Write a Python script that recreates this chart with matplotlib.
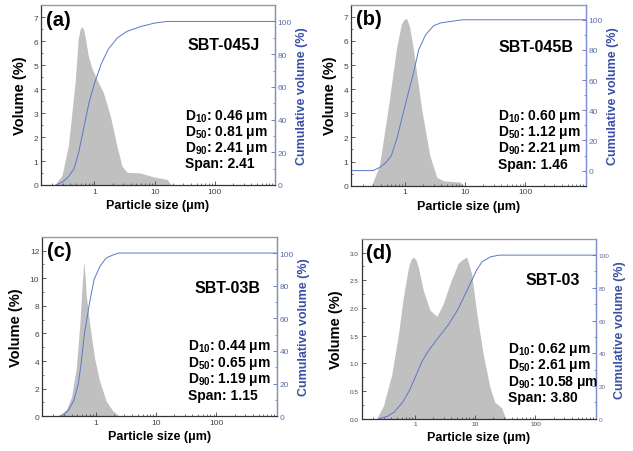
import matplotlib
matplotlib.use("Agg")
import matplotlib.pyplot as plt
from matplotlib.ticker import MultipleLocator, FormatStrFormatter, LogLocator, NullFormatter

plt.rcParams["font.family"] = ["Liberation Sans", "DejaVu Sans"]
plt.rcParams["mathtext.fontset"] = "custom"
plt.rcParams["mathtext.rm"] = "Liberation Sans"
plt.rcParams["mathtext.bf"] = "Liberation Sans:bold"

# ---- data ----
sizes_a = [0.22, 0.29, 0.37, 0.48, 0.54, 0.58, 0.62, 0.66, 0.70, 0.79, 0.90, 1.1, 1.41, 1.83, 2.36,
           2.86, 3.47, 5.8, 9.6, 16.3, 18.7]
vol_a = [0, 0.4, 1.64, 4.3, 6.1, 6.5, 6.6, 6.5, 6.2, 5.4, 4.9, 4.4, 3.86, 2.9, 1.64,
         0.8, 0.53, 0.5, 0.34, 0.23, 0]
cum_x_a = [0.23, 0.30, 0.37, 0.46, 0.55, 0.65, 0.81, 1.0, 1.3, 1.7, 2.41, 3.5, 6.0, 10, 16, 1000]
cum_a = [0, 2, 5, 10, 20, 33, 50, 62, 74, 83, 90, 94, 97, 99, 100, 100]

sizes_b = [0.28, 0.38, 0.53, 0.73, 0.88, 0.97, 1.07, 1.2, 1.38, 1.9, 2.6, 3.4, 4.4, 8.3, 9.4]
vol_b = [0, 0.83, 3.2, 5.7, 6.7, 6.88, 6.93, 6.6, 5.7, 3.2, 1.25, 0.35, 0.2, 0.15, 0]
cum_x_b = [0.13, 0.30, 0.38, 0.48, 0.60, 0.75, 0.90, 1.12, 1.4, 1.7, 2.21, 3.0, 4.0, 6.0, 9.0, 1000]
cum_b = [0, 0, 2, 5, 10, 22, 35, 50, 65, 80, 90, 96, 98, 99, 100, 100]

sizes_c = [0.24, 0.33, 0.40, 0.48, 0.55, 0.60, 0.64, 0.67, 0.70, 0.80, 0.96, 1.16, 1.5, 1.93, 2.5]
vol_c = [0, 0.5, 1.4, 3.5, 6.7, 9.5, 11.2, 10.2, 8.8, 6.7, 4.25, 2.6, 1.1, 0.4, 0]
cum_x_c = [0.25, 0.30, 0.36, 0.44, 0.52, 0.58, 0.65, 0.80, 0.95, 1.19, 1.5, 2.0, 2.4, 1000]
cum_c = [0, 1, 4, 10, 20, 33, 50, 70, 84, 92, 97, 99, 100, 100]

sizes_d = [0.23, 0.30, 0.41, 0.53, 0.64, 0.78, 0.86, 0.94, 1.03, 1.13, 1.37, 1.77, 2.3, 2.95, 3.8,
           5.2, 6.2, 7.2, 8.7, 10.5, 13.5, 17.5, 21, 27.3, 32]
vol_d = [0, 0.24, 0.8, 1.53, 2.2, 2.74, 2.88, 2.92, 2.88, 2.74, 2.32, 1.96, 1.85, 2.08, 2.44,
         2.81, 2.88, 2.92, 2.62, 1.93, 1.17, 0.57, 0.3, 0.2, 0]
cum_x_d = [0.25, 0.35, 0.45, 0.62, 0.80, 1.0, 1.3, 1.7, 2.61, 3.5, 5.0, 7.0, 10.58, 13, 18, 25, 1000]
cum_d = [0, 1.5, 4, 10, 17, 25, 35, 42, 51, 57, 66, 77, 91, 96, 99, 100, 100]

panel_tags = ["(a)", "(b)", "(c)", "(d)"]
sample_names = ["SBT-045J", "SBT-045B", "SBT-03B", "SBT-03"]
d10 = ["0.46", "0.60", "0.44", "0.62"]
d50 = ["0.81", "1.12", "0.65", "2.61"]
d90 = ["2.41", "2.21", "1.19", "10.58"]
spans = ["2.41", "1.46", "1.15", "3.80"]

FILL = "#c0c0c0"
LINE = "#5a78c8"
BLUE = "#3b4fa6"
TICKBLUE = "#5d6cab"

# axes boxes in figure fraction [left, bottom, width, height]
boxes = [
    [0.0648, 0.5885, 0.3697, 0.398],
    [0.555, 0.587, 0.3703, 0.4004],
    [0.0664, 0.0768, 0.3708, 0.3973],
    [0.5714, 0.0715, 0.3697, 0.398],
]
vol_lims = [(0, 7.5), (0, 7.5), (0, 13), (0, 3.25)]
vol_major = [1, 1, 2, 0.5]
cum_lims = [(0, 110), (-10, 110), (0, 110), (0, 110)]
tick_fs = [6, 6, 6, 4.6]
name_pos = [(0.935, 0.755), (0.95, 0.746), (0.929, 0.69), (0.933, 0.748)]
dtext_pos = [(0.615, 0.367, 0.098), (0.626, 0.368, 0.10), (0.622, 0.375, 0.096), (0.625, 0.369, 0.10)]

all_sizes = [sizes_a, sizes_b, sizes_c, sizes_d]
all_vols = [vol_a, vol_b, vol_c, vol_d]
all_cx = [cum_x_a, cum_x_b, cum_x_c, cum_x_d]
all_cum = [cum_a, cum_b, cum_c, cum_d]

fig = plt.figure(figsize=(6.33, 4.52), dpi=100)

for i in range(4):
    ax = fig.add_axes(boxes[i])
    ax2 = ax.twinx()

    ax.fill_between(all_sizes[i], all_vols[i], 0, color=FILL, linewidth=0)
    ax2.plot(all_cx[i], all_cum[i], color=LINE, lw=0.7)

    ax.set_xscale("log")
    ax.set_xlim(0.13, 1000)
    ax.set_ylim(*vol_lims[i])
    ax2.set_ylim(*cum_lims[i])
    ax.xaxis.set_minor_locator(LogLocator(base=10, subs=range(2, 10), numticks=20))
    ax.xaxis.set_minor_formatter(NullFormatter())
    ax.set_xticks([1, 10, 100])
    ax.set_xticklabels(["1", "10", "100"])
    ax.yaxis.set_major_locator(MultipleLocator(vol_major[i]))
    ax.yaxis.set_minor_locator(MultipleLocator(vol_major[i] / 2))
    if i == 3:
        ax.yaxis.set_major_formatter(FormatStrFormatter("%.1f"))
    ax2.set_yticks([0, 20, 40, 60, 80, 100])
    ax2.yaxis.set_minor_locator(MultipleLocator(10))

    ax.tick_params(which="both", direction="in", colors="#444444", labelsize=tick_fs[i], pad=2)
    ax.tick_params(which="major", length=3, width=0.6)
    ax.tick_params(which="minor", length=1.5, width=0.5)
    ax.tick_params(axis="x", which="both", top=False)
    ax.tick_params(axis="y", which="both", right=False)
    ax2.tick_params(which="both", direction="in", colors=TICKBLUE, labelsize=tick_fs[i], pad=2)
    ax2.tick_params(which="major", length=3, width=0.6)
    ax2.tick_params(which="minor", length=1.5, width=0.5)

    for s in ["left", "bottom"]:
        ax2.spines[s].set_color("#333333")
        ax2.spines[s].set_linewidth(0.8)
    ax2.spines["top"].set_color("#999999")
    ax2.spines["top"].set_linewidth(0.8)
    ax2.spines["right"].set_color("#7f90cf")
    ax2.spines["right"].set_linewidth(0.9)

    ax.set_ylabel("Volume (%)", fontsize=10.5, fontweight="bold", labelpad=5)
    ax.set_xlabel("Particle size (\u03bcm)", fontsize=9, fontweight="bold", labelpad=3)
    ax2.set_ylabel("Cumulative volume (%)", fontsize=9, fontweight="bold", color=BLUE, labelpad=3)

    ax.text(0.02, 0.975, panel_tags[i], transform=ax.transAxes, fontsize=14.5,
            fontweight="bold", va="top", ha="left", zorder=10)
    nx, ny = name_pos[i]
    ax2.text(nx, ny, sample_names[i], transform=ax.transAxes, fontsize=11.5,
             fontweight="bold", ha="right", va="baseline")

    lines = [
        r"D$_{\mathbf{10}}$: " + d10[i] + " \u03bcm",
        r"D$_{\mathbf{50}}$: " + d50[i] + " \u03bcm",
        r"D$_{\mathbf{90}}$: " + d90[i] + " \u03bcm",
        "Span: " + spans[i],
    ]
    tx, y0, y3 = dtext_pos[i]
    for k, s in enumerate(lines):
        yk = y0 - k * (y0 - y3) / 3
        ax2.text(tx, yk, s, transform=ax.transAxes, fontsize=10, fontweight="bold",
                 ha="left", va="baseline")

fig.savefig("out.png", dpi=100)
